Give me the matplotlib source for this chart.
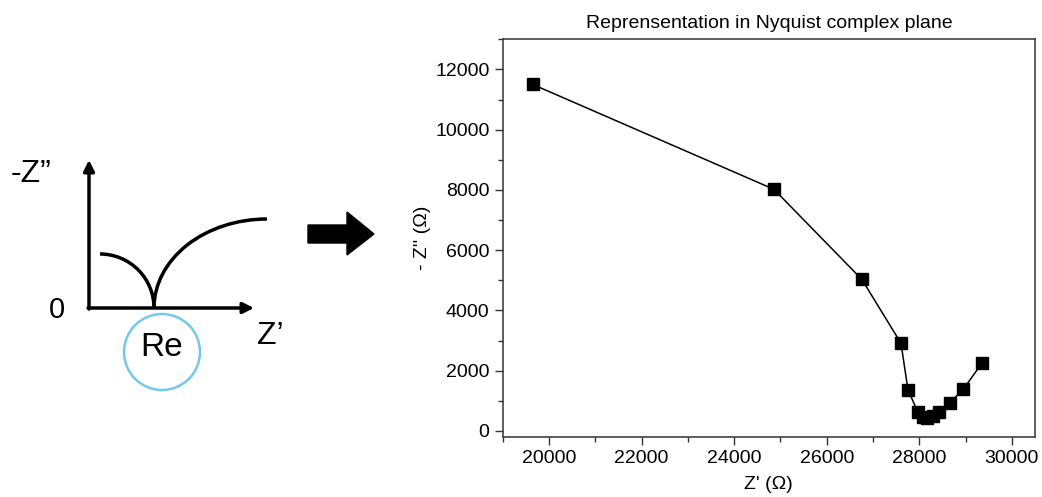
import numpy as np
import matplotlib
matplotlib.use('Agg')
import matplotlib.pyplot as plt
from matplotlib.patches import Circle, Arc, Polygon
from matplotlib.ticker import MultipleLocator

plt.rcParams['font.family'] = ['Liberation Sans', 'DejaVu Sans']

# ── Data (Nyquist points) ────────────────────────────────────────────────────
z_real = [19650, 24860, 26760, 27605, 27755, 27965, 28070, 28170,
          28290, 28430, 28665, 28955, 29360]
z_imag = [11500, 8020, 5030, 2910, 1370, 640, 480, 420,
          500, 640, 940, 1395, 2265]

title = "Reprensentation in Nyquist complex plane"
xlabel = "Z' (\u03a9)"
ylabel = "- Z'' (\u03a9)"

# ── Figure ────────────────────────────────────────────────────────────────────
fig = plt.figure(figsize=(10.42, 4.97), dpi=100)

# schematic overlay in pixel units (y grows downward)
sk = fig.add_axes([0, 0, 1, 1])
sk.set_xlim(0, 1042)
sk.set_ylim(497, 0)
sk.axis('off')

lw = 2.5
ox, oy = 89, 308
# axes arrows
sk.annotate('', xy=(ox, 160), xytext=(ox, oy + 1),
            arrowprops=dict(arrowstyle='-|>', lw=lw, color='black',
                            mutation_scale=16, shrinkA=0, shrinkB=0))
sk.annotate('', xy=(254, oy), xytext=(ox - 1, oy),
            arrowprops=dict(arrowstyle='-|>', lw=lw, color='black',
                            mutation_scale=16, shrinkA=0, shrinkB=0))
# small semicircle and large arc
sk.add_patch(Arc((100, oy), 108, 108, theta1=270, theta2=360, lw=lw,
                 color='black'))
sk.add_patch(Arc((267, oy), 226, 178, theta1=180, theta2=270, lw=lw,
                 color='black'))
# labels
sk.text(31, 174, '-Z\u201d', fontsize=23, ha='center', va='center')
sk.text(57, 310, '0', fontsize=21, ha='center', va='center')
sk.text(270, 336, 'Z\u2019', fontsize=23, ha='center', va='center')
sk.add_patch(Circle((162, 352), 38, fill=False, lw=1.8, color='#74c8ec'))
sk.text(162, 347, 'Re', fontsize=24, ha='center', va='center')
# block arrow
sk.add_patch(Polygon([(308, 225), (347, 225), (347, 212), (374, 234),
                      (347, 255), (347, 243), (308, 243)],
                     closed=True, color='black'))

# main Nyquist plot
ax = fig.add_axes([0.4824, 0.1207, 0.5109, 0.8003])
ax.plot(z_real, z_imag, '-s', color='black', lw=1.1, markersize=8)
ax.set_xlim(19000, 30500)
ax.set_ylim(-200, 13000)
ax.xaxis.set_major_locator(MultipleLocator(2000))
ax.xaxis.set_minor_locator(MultipleLocator(1000))
ax.yaxis.set_major_locator(MultipleLocator(2000))
ax.yaxis.set_minor_locator(MultipleLocator(1000))
ax.tick_params(which='both', direction='out', top=False, right=False,
               labelsize=14, color='#333333')
ax.tick_params(which='major', length=6, width=1)
ax.tick_params(which='minor', length=3.5, width=1)
for s in ax.spines.values():
    s.set_linewidth(1.1)
    s.set_color('#333333')
ax.set_title(title, fontsize=14, pad=8)
ax.set_xlabel(xlabel, fontsize=14, labelpad=6)
ax.set_ylabel(ylabel, fontsize=14, labelpad=3)

fig.savefig('out.png', dpi=100)
